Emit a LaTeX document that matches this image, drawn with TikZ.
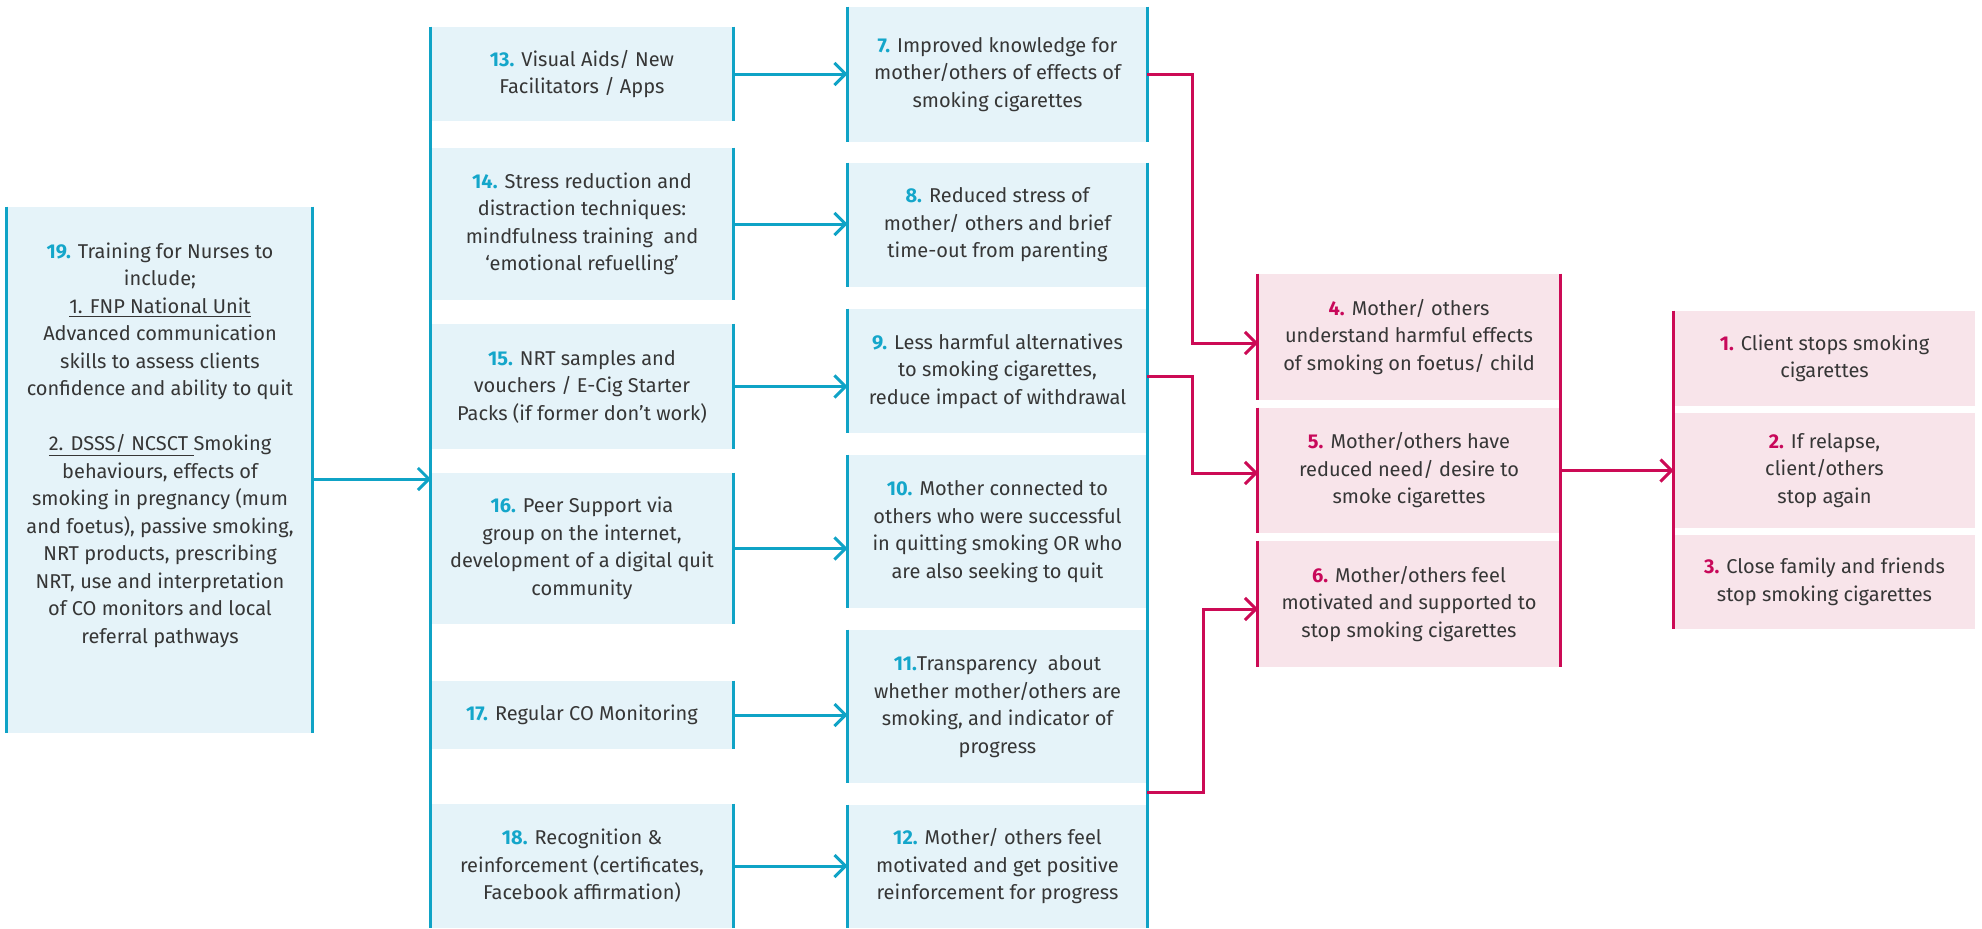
\documentclass[tikz,border=0pt]{standalone}
\usepackage{fontspec}
\setmainfont{Fira Sans}
\usetikzlibrary{arrows.meta}
\definecolor{bline}{HTML}{0FA3C6}
\definecolor{bfill}{HTML}{E5F3F9}
\definecolor{rline}{HTML}{CC0A55}
\definecolor{rfill}{HTML}{F8E4EA}
\definecolor{txtc}{HTML}{363636}
\definecolor{bnum}{HTML}{14A6CA}
\definecolor{rnum}{HTML}{C8085A}
\newcommand\bn[1]{\textbf{\color{bnum}#1}}
\newcommand\rn[1]{\textbf{\color{rnum}#1}}
\newcommand\mybox[7]{\node[#2,minimum width={(#5-#3)*0.5pt},minimum height={(#6-#4)*0.5pt}] (#1) at ({(#3+#5)/2},{(#4+#6)/2}) {#7};}
\begin{document}
\begin{tikzpicture}[x=0.5pt,y=-0.5pt,
  font={\fontsize{10}{13.75}\selectfont},
  bbox/.style={fill=bfill,inner sep=0pt,align=center,text=txtc},
  rbox/.style={fill=rfill,inner sep=0pt,align=center,text=txtc},
  txtnode/.style={inner sep=0pt,align=center,text=txtc},
  bl/.style={draw=bline,line width=1.5pt},
  rl/.style={draw=rline,line width=1.5pt},
  barrow/.style={bl,-{Straight Barb[length=5.5pt,width=11pt]}},
  rarrow/.style={rl,-{Straight Barb[length=5.5pt,width=11pt]}}]
\useasboundingbox (0,0) rectangle (1982,928);
\fill[white] (0,0) rectangle (1982,928);
% column 1
\mybox{b19}{bbox}{7}{207}{312}{733}{}
\node[txtnode] (t19) at (160,445) {\bn{19.} Training for Nurses to\\ include;\\ \underline{1. FNP National Unit}\\ Advanced communication\\ skills to assess clients\\ confidence and ability to quit\\[13.75pt] \underline{2. DSSS/ NCSCT\ }Smoking\\ behaviours, effects of\\ smoking in pregnancy (mum\\ and foetus), passive smoking,\\ NRT products, prescribing\\ NRT, use and interpretation\\ of CO monitors and local\\ referral pathways};
% column 2
\mybox{b13}{bbox}{431}{27}{733}{121}{\bn{13.} Visual Aids/ New\\ Facilitators / Apps}
\mybox{b14}{bbox}{431}{148}{733}{300}{\bn{14.} Stress reduction and\\ distraction techniques:\\ mindfulness training\ \ and\\ ‘emotional refuelling’}
\mybox{b15}{bbox}{431}{324}{733}{449}{\bn{15.} NRT samples and\\ vouchers / E-Cig Starter\\ Packs (if former don’t work)}
\mybox{b16}{bbox}{431}{473}{733}{624}{\bn{16.} Peer Support via\\ group on the internet,\\ development of a digital quit\\ community}
\mybox{b17}{bbox}{431}{681}{733}{749}{\bn{17.} Regular CO Monitoring}
\mybox{b18}{bbox}{431}{804}{733}{928}{\bn{18.} Recognition \&\\ reinforcement (certificates,\\ Facebook affirmation)}
% column 3
\mybox{b7}{bbox}{848}{7}{1147}{142}{\bn{7.} Improved knowledge for\\ mother/others of effects of\\ smoking cigarettes}
\mybox{b8}{bbox}{848}{163}{1147}{287}{\bn{8.} Reduced stress of\\ mother/ others and brief\\ time-out from parenting}
\mybox{b9}{bbox}{848}{309}{1147}{433}{\bn{9.} Less harmful alternatives\\ to smoking cigarettes,\\ reduce impact of withdrawal}
\mybox{b10}{bbox}{848}{455}{1147}{608}{\bn{10.} Mother connected to\\ others who were successful\\ in quitting smoking OR who\\ are also seeking to quit}
\mybox{b11}{bbox}{848}{630}{1147}{783}{\bn{11.}Transparency\ \ about\\ whether mother/others are\\ smoking, and indicator of\\ progress}
\mybox{b12}{bbox}{848}{805}{1147}{928}{\bn{12.} Mother/ others feel\\ motivated and get positive\\ reinforcement for progress}
% column 4
\mybox{b4}{rbox}{1258}{274}{1560}{400}{\rn{4.} Mother/ others\\ understand harmful effects\\ of smoking on foetus/ child}
\mybox{b5}{rbox}{1258}{408}{1560}{533}{\rn{5.} Mother/others have\\ reduced need/ desire to\\ smoke cigarettes}
\mybox{b6}{rbox}{1258}{541}{1560}{667}{\rn{6.} Mother/others feel\\ motivated and supported to\\ stop smoking cigarettes}
% column 5
\mybox{b1}{rbox}{1674}{311}{1975}{406}{\rn{1.} Client stops smoking\\ cigarettes}
\mybox{b2}{rbox}{1674}{413}{1975}{528}{\rn{2.} If relapse,\\ client/others\\ stop again}
\mybox{b3}{rbox}{1674}{535}{1975}{629}{\rn{3.} Close family and friends\\ stop smoking cigarettes}
% side lines
\draw[bl] (b19.north west) -- (b19.south west);
\draw[bl] (b19.north east) -- (b19.south east);
\draw[bl] (b13.north west) -- (b18.south west);
\foreach \b in {b13,b14,b15,b16,b17,b18} \draw[bl] (\b.north east) -- (\b.south east);
\foreach \b in {b7,b8,b9,b10,b11,b12} \draw[bl] (\b.north west) -- (\b.south west);
\draw[bl] (b7.north east) -- (b7.south east);
\draw[bl] (b8.north east) -- (b12.south east);
\foreach \b in {b4,b5,b6} \draw[rl] (\b.north west) -- (\b.south west);
\draw[rl] (b4.north east) -- (b6.south east);
\draw[rl] (b1.north west) -- (b3.south west);
% connectors
\coordinate (c2) at (431,479);
\draw[barrow] (c2 -| b19.east) -- (c2);
\foreach \s/\t in {b13/b7,b14/b8,b15/b9,b16/b10,b17/b11,b18/b12}
  \draw[barrow] (\s.east) -- (\s.east -| \t.west);
\coordinate (e4) at (1258,343);
\coordinate (s9) at (1147,376);
\coordinate (e5) at (1258,473);
\coordinate (s11) at (1147,792);
\coordinate (e6) at (1258,609);
\draw[rarrow] (b7.east) -- ++(45,0) |- (e4);
\draw[rarrow] (s9) -- ++(45,0) |- (e5);
\draw[rarrow] (s11) -- ++(56,0) |- (e6);
\draw[rarrow] (b5.east) -- (b5.east -| b2.west);
\end{tikzpicture}
\end{document}
